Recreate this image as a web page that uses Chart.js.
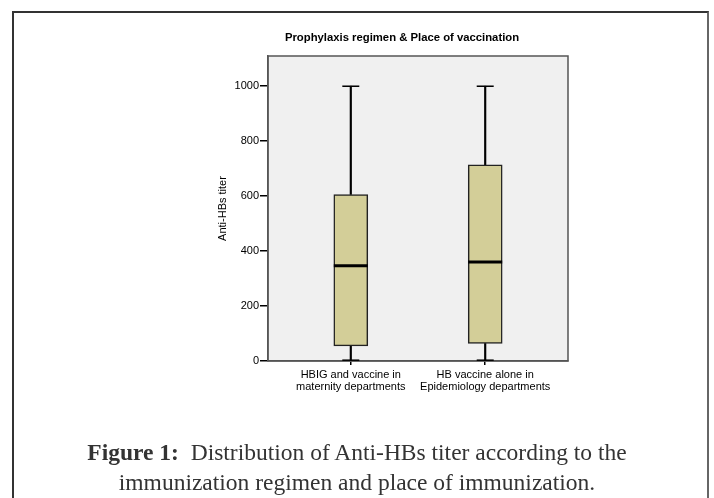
<!DOCTYPE html>
<html>
<head>
<meta charset="utf-8">
<script src="https://cdn.jsdelivr.net/npm/chart.js@4"></script>
<style>
  html, body { margin: 0; padding: 0; background: #fff; }
  #wrap { position: relative; width: 714px; height: 498px; overflow: hidden; }
  #frame { position: absolute; left: 12px; top: 11px; width: 693px; height: 600px; border: 2px solid #333; border-right-color: #666; }
  #chart { position: absolute; left: 0; top: 0; }
  #title { position: absolute; left: 402px; top: 31px; transform: translateX(-50%); white-space: nowrap;
           font: bold 11.3px "Liberation Sans", Arial, sans-serif; color: #000; }
  #caption { position: absolute; left: 0; top: 437px; width: 714px; text-align: center;
             font: 23.5px/30px "Liberation Serif", serif; color: #333; }
</style>
</head>
<body>
<div id="wrap">
  <div id="frame"></div>
  <canvas id="chart" width="714" height="498"></canvas>
  <div id="title">Prophylaxis regimen &amp; Place of vaccination</div>
  <div id="caption"><b>Figure 1:</b>&nbsp; Distribution of Anti-HBs titer according to the<br>immunization regimen and place of immunization.</div>
</div>
<script>
const categories = [
    ["HBIG and vaccine in", "maternity departments"],
    ["HB vaccine alone in", "Epidemiology departments"],
];
const positions = [1, 2];
const minValues = [3, 3];
const q1Values = [55, 64];
const medianValues = [347, 360];
const q3Values = [606, 714];
const maxValues = [1000, 1000];
const yTicks = [0, 200, 400, 600, 800, 1000];

let boxData = positions.map((x, i) => ({x: x, y: [q1Values[i], q3Values[i]]})),
    lowerWhisker = positions.map((x, i) => ({x: x, y: [minValues[i], q1Values[i]]})),
    upperWhisker = positions.map((x, i) => ({x: x, y: [q3Values[i], maxValues[i]]})),
    caps = positions.map((x, i) => ({x: x, y: maxValues[i]}))
        .concat(positions.map((x, i) => ({x: x, y: minValues[i]}))),
    medians = positions.map((x, i) => ({x: x, y: medianValues[i]}));

// plot background and frame around the chart area
const plotFrame = {
    id: 'plotFrame',
    beforeDraw(chart) {
        let ctx = chart.ctx, a = chart.chartArea;
        ctx.save();
        ctx.fillStyle = '#f0f0f0';
        ctx.fillRect(a.left, a.top, a.right - a.left, a.bottom - a.top);
        ctx.restore();
    },
    beforeDatasetsDraw(chart) {
        let ctx = chart.ctx, a = chart.chartArea;
        ctx.save();
        ctx.strokeStyle = '#555';
        ctx.lineWidth = 1.5;
        ctx.strokeRect(a.left, a.top, a.right - a.left, a.bottom - a.top);
        ctx.restore();
    },
};

const tickFont = {family: '"Liberation Sans", Arial, sans-serif', size: 11, lineHeight: 1.1};

new Chart(document.getElementById('chart'), {
    type: 'bar',
    data: {
        datasets: [{
            type: 'scatter',
            data: medians,
            pointStyle: 'line',
            radius: 17,
            borderWidth: 3,
            borderColor: '#000',
        }, {
            type: 'scatter',
            data: caps,
            pointStyle: 'line',
            radius: 8.5,
            borderWidth: 1.5,
            borderColor: '#000',
        }, {
            data: boxData,
            backgroundColor: '#d3ce98',
            borderColor: '#222',
            borderWidth: 1.5,
            borderSkipped: false,
            barThickness: 34,
            grouped: false,
        }, {
            data: lowerWhisker,
            backgroundColor: '#000',
            barThickness: 1.5,
            grouped: false,
        }, {
            data: upperWhisker,
            backgroundColor: '#000',
            barThickness: 1.5,
            grouped: false,
        }],
    },
    options: {
        responsive: false,
        animation: false,
        devicePixelRatio: 1,
        layout: {padding: {left: 212, right: 146, top: 56, bottom: 97}},
        plugins: {legend: {display: false}, tooltip: {enabled: false}},
        scales: {
            x: {
                type: 'linear',
                min: 0.384,
                max: 2.616,
                offset: false,
                afterBuildTicks(scale) { scale.ticks = positions.map(v => ({value: v})); },
                afterFit(scale) { scale.height = 40; },
                grid: {offset: false, drawOnChartArea: false, tickLength: 4, color: '#000', lineWidth: 1.5},
                border: {color: '#555', width: 1.5},
                ticks: {
                    autoSkip: false, maxRotation: 0, padding: 4, color: '#000', font: tickFont,
                    callback: (v, i) => categories[i],
                },
            },
            y: {
                min: 0,
                max: 1110,
                afterBuildTicks(scale) { scale.ticks = yTicks.map(v => ({value: v})); },
                afterFit(scale) { scale.width = 56; },
                grid: {drawOnChartArea: false, tickLength: 8, color: '#000', lineWidth: 1.5},
                border: {color: '#555', width: 1.5},
                ticks: {padding: 1, color: '#000', font: tickFont, callback: v => String(v)},
                title: {
                    display: true, text: 'Anti-HBs titer', color: '#000',
                    font: {family: '"Liberation Sans", Arial, sans-serif', size: 11},
                    padding: {top: 4, bottom: 4},
                },
            },
        },
    },
    plugins: [plotFrame],
});
</script>
</body>
</html>
